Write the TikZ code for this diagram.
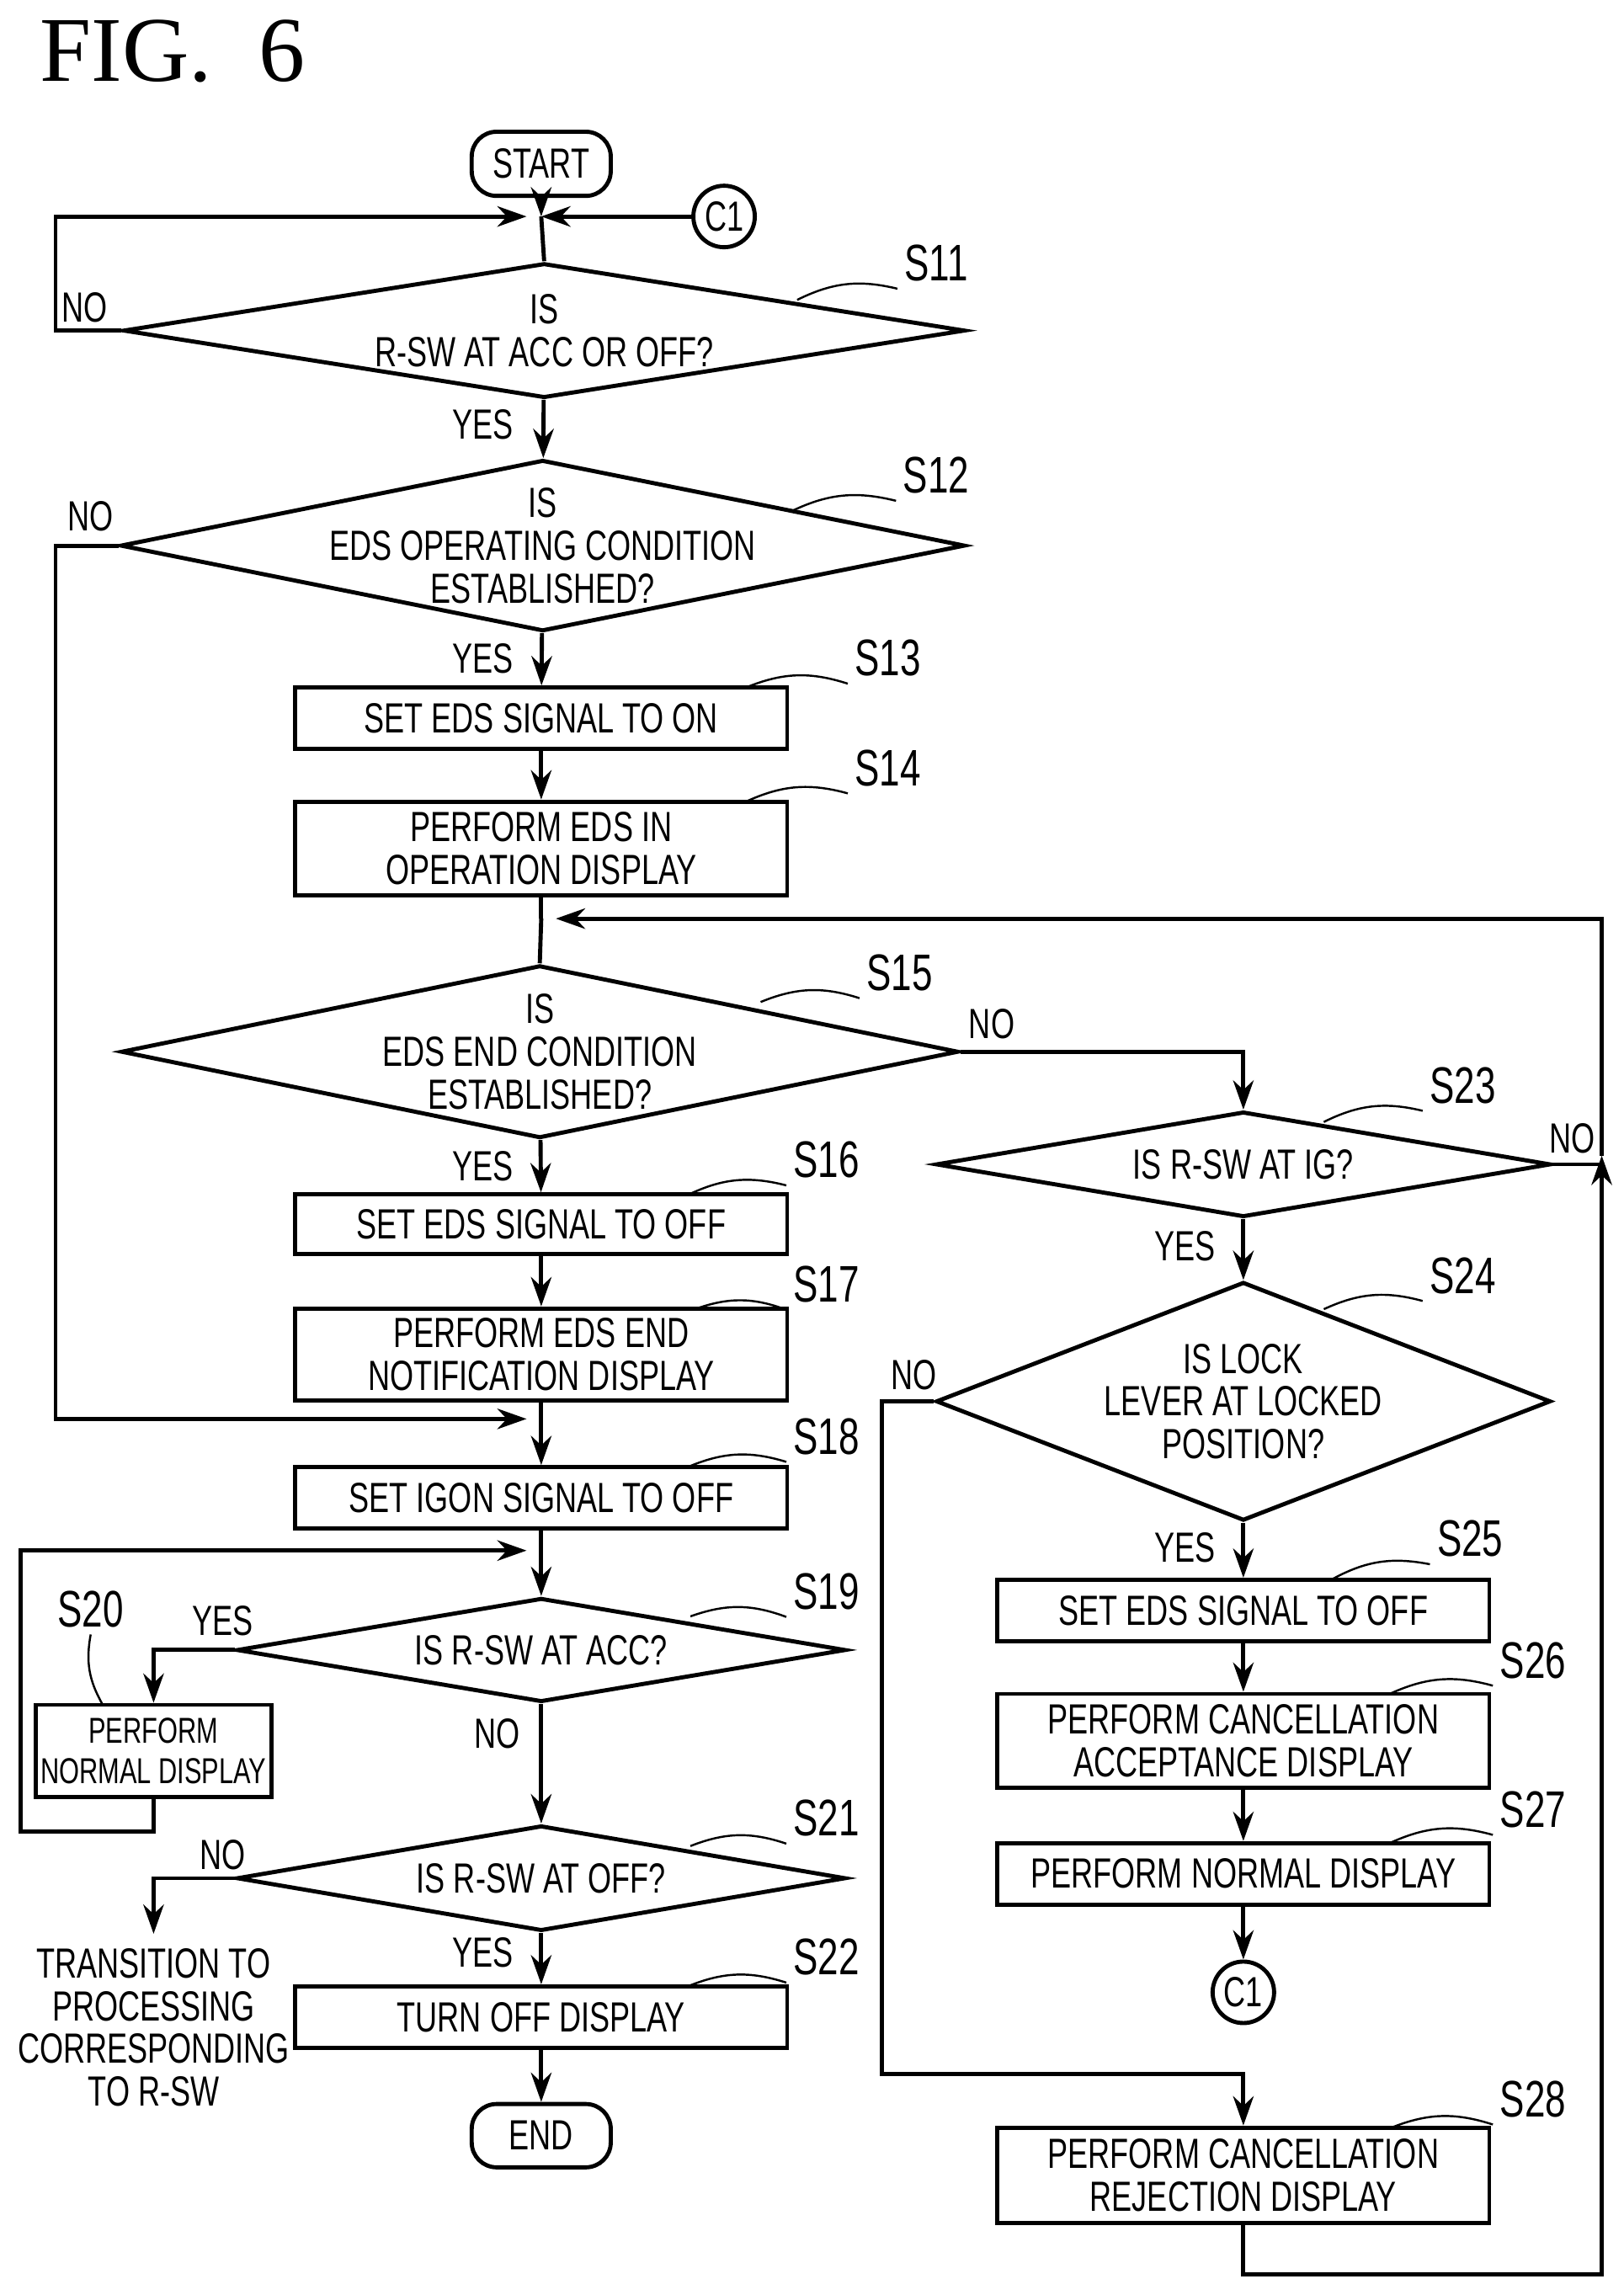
\documentclass[tikz,border=0pt]{standalone}
\usepackage{fontspec}
\newfontfamily\flowfont{Liberation Sans}[FakeStretch=0.72]
\newfontfamily\figfont{Liberation Serif}
\usetikzlibrary{positioning, shapes.geometric, arrows.meta}
\tikzset{
	process/.style={
		rectangle,
		draw,
		thick,
		minimum width=3.36cm,
		align=center,
		inner sep=1pt,
	},
	decision/.style={
		diamond,
		draw,
		thick,
		align=center,
		inner sep=0pt,
	},
	terminal/.style={
		rectangle,
		draw,
		thick,
		rounded corners=0.17cm,
		minimum width=0.95cm,
		minimum height=0.35cm,
	},
	conn/.style={
		circle,
		draw,
		thick,
		minimum size=0.42cm,
		inner sep=0pt,
	},
	lbl/.style={inner sep=1pt},
	leader/.style={thin},
}
\newcommand{\steplabel}[3]{%
	\node [lbl] (#1) at (#2) {#1};
	\draw [leader] (#3) to[bend left=20] (#1.south west);
}
\begin{document}
\begin{tikzpicture}[x=0.01cm, y=-0.01cm, >={Stealth[length=2mm,width=1.4mm]}, thick, font=\flowfont\fontsize{8.2}{8.3}\selectfont]
		\useasboundingbox (0,0) rectangle (1110,1558);
		\node [font=\figfont\fontsize{18}{21}\selectfont] (fig) at (118,35) {FIG.\ \ 6};
		% Place nodes
		\node [terminal] (start) at (370,112) {START};
		\coordinate (j1) at (370,148);
		\node [conn] (c1a) at (495,148) {C1};
		\node [decision, aspect=6.25, minimum width=5.75cm, minimum height=0.92cm] (s11) at (372,226) {};
		\node [align=center] (s11t) at (s11) {IS\\R-SW AT ACC OR OFF?};
		\node [decision, aspect=4.93, minimum width=5.77cm, minimum height=1.17cm] (s12) at (371,373) {};
		\node [align=center] (s12t) at (s12) {IS\\EDS OPERATING CONDITION\\ESTABLISHED?};
		\node [process, minimum height=0.42cm] (s13) at (370,491) {SET EDS SIGNAL TO ON};
		\node [process, minimum height=0.64cm] (s14) at (370,580) {PERFORM EDS IN\\OPERATION DISPLAY};
		\coordinate (j2) at (370,628);
		\node [decision, aspect=4.85, minimum width=5.72cm, minimum height=1.18cm] (s15) at (369,719) {};
		\node [align=center] (s15t) at (s15) {IS\\EDS END CONDITION\\ESTABLISHED?};
		\node [process, minimum height=0.41cm] (s16) at (370,837) {SET EDS SIGNAL TO OFF};
		\node [process, minimum height=0.63cm] (s17) at (370,926) {PERFORM EDS END\\NOTIFICATION DISPLAY};
		\coordinate (j3) at (370,970);
		\node [process, minimum height=0.42cm] (s18) at (370,1024) {SET IGON SIGNAL TO OFF};
		\coordinate (j4) at (370,1060);
		\node [decision, aspect=5.86, minimum width=4.16cm, minimum height=0.71cm] (s19) at (370,1128) {IS R-SW AT ACC?};
		\node [process, minimum width=1.54cm, minimum height=0.63cm, font=\flowfont\fontsize{7}{8}\selectfont] (s20) at (105,1197) {PERFORM\\NORMAL DISPLAY};
		\node [decision, aspect=5.78, minimum width=4.16cm, minimum height=0.72cm] (s21) at (370,1284) {IS R-SW AT OFF?};
		\node [align=center] (trans) at (105,1386) {TRANSITION TO\\PROCESSING\\CORRESPONDING\\TO R-SW};
		\node [process, minimum height=0.42cm] (s22) at (370,1379) {TURN OFF DISPLAY};
		\node [terminal] (end) at (370,1460) {END};
		\node [decision, aspect=5.83, minimum width=4.2cm, minimum height=0.72cm] (s23) at (850,796) {IS R-SW AT IG?};
		\node [decision, aspect=2.58, minimum width=4.2cm, minimum height=1.63cm] (s24) at (850,958) {};
		\node [align=center] (s24t) at (s24) {IS LOCK\\LEVER AT LOCKED\\POSITION?};
		\node [process, minimum height=0.42cm] (s25) at (850,1101) {SET EDS SIGNAL TO OFF};
		\node [process, minimum height=0.64cm] (s26) at (850,1190) {PERFORM CANCELLATION\\ACCEPTANCE DISPLAY};
		\node [process, minimum height=0.42cm] (s27) at (850,1281) {PERFORM NORMAL DISPLAY};
		\node [conn] (c1b) at (850,1362) {C1};
		\node [process, minimum height=0.65cm] (s28) at (850,1487) {PERFORM CANCELLATION\\REJECTION DISPLAY};

		% Main column
		\draw [->] (start) to (j1);
		\draw [->] (c1a) to (j1);
		\draw (j1) to (s11.north);
		\draw [->] (s11) to (s12);
		\draw [->] (s12) to (s13);
		\draw [->] (s13) to (s14);
		\draw (s14) to (j2);
		\draw (j2) to (s15.north);
		\draw [->] (s15) to (s16);
		\draw [->] (s16) to (s17);
		\draw (s17) to (j3);
		\draw [->] (j3) to (s18);
		\draw (s18) to (j4);
		\draw [->] (j4) to (s19);
		\draw [->] (s19) to (s21);
		\draw [->] (s21) to (s22);
		\draw [->] (s22) to (end);

		% Loops
		\draw [->] (s11.west) -- (38,226) |- ([xshift=-0.1cm]j1);
		\draw [->] (s12.west) -- (38,373) |- ([xshift=-0.1cm]j3);
		\draw [->] (s19.west) -| (s20.north);
		\draw [->] (s20.south) -- (105,1252) -- (14,1252) |- ([xshift=-0.1cm]j4);
		\draw [->] (s21.west) -| (105,1322);
		\draw [->] (s15.east) -| (s23.north);
		\draw (s23.east) -- (1095,796);
		\draw [->] (s23) to (s24);
		\draw [->] (s24) to (s25);
		\draw [->] (s25) to (s26);
		\draw [->] (s26) to (s27);
		\draw [->] (s27) to (c1b);
		\draw [->] (s24.west) -- (603,958) |- (850,1418) -- (s28.north);
		\draw [->] (s28.south) -- (850,1555) -- (1095,1555) -- (1095,790);
		\draw [->] (1095,790) |- ([xshift=0.1cm]j2);

		% Branch labels
		\node (no11) at (58,210) {NO};
		\node (yes11) at (330,290) {YES};
		\node (no12) at (62,353) {NO};
		\node (yes12) at (330,450) {YES};
		\node (no15) at (678,700) {NO};
		\node (yes15) at (330,797) {YES};
		\node (yes19) at (152,1108) {YES};
		\node (no19) at (340,1185) {NO};
		\node (no21) at (152,1268) {NO};
		\node (yes21) at (330,1335) {YES};
		\node (no23) at (1075,778) {NO};
		\node (yes23) at (810,852) {YES};
		\node (no24) at (625,940) {NO};
		\node (yes24) at (810,1058) {YES};

		% Step labels
		\begin{scope}[font=\flowfont\fontsize{10}{12}\selectfont]
		\steplabel{S11}{640,180}{545,205}
		\steplabel{S12}{640,325}{540,350}
		\steplabel{S13}{607,450}{510,470}
		\steplabel{S14}{607,525}{510,548}
		\steplabel{S15}{615,665}{520,685}
		\steplabel{S16}{565,793}{470,817}
		\steplabel{S17}{565,878}{475,895}
		\steplabel{S18}{565,982}{470,1003}
		\steplabel{S19}{565,1088}{472,1105}
		\steplabel{S21}{565,1243}{472,1262}
		\steplabel{S22}{565,1338}{470,1358}
		\steplabel{S23}{1000,742}{905,767}
		\steplabel{S24}{1000,872}{905,895}
		\steplabel{S25}{1005,1052}{910,1080}
		\steplabel{S26}{1048,1135}{950,1158}
		\steplabel{S27}{1048,1237}{950,1260}
		\steplabel{S28}{1048,1435}{950,1455}
		\node [lbl] (S20) at (62,1100) {S20};
		\draw [leader] (S20.south) to[bend right=20] (70,1165);
		\end{scope}
	\end{tikzpicture}
\end{document}
